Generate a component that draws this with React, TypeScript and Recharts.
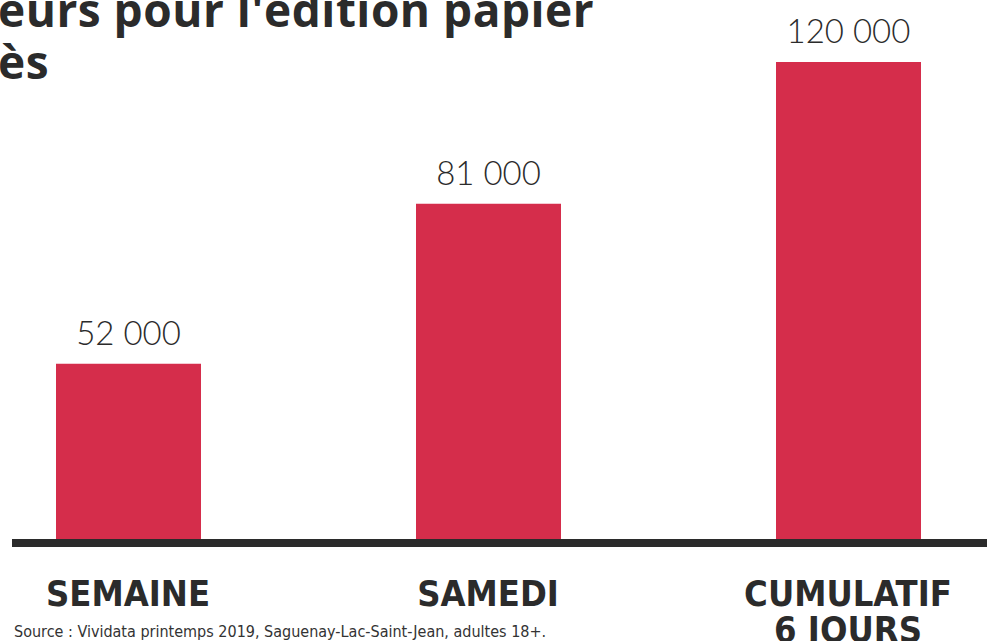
import React from 'react';
import { BarChart, Bar, XAxis, YAxis, LabelList } from 'recharts';

// Lecteurs de l'édition papier (Vividata printemps 2019)
const categories = ['SEMAINE', 'SAMEDI', 'CUMULATIF\n6 JOURS'];
const readers = [52000, 81000, 120000];

const titleLines = ["eurs pour l'édition papier", 'ès'];
const sourceNote = 'Source : Vividata printemps 2019, Saguenay-Lac-Saint-Jean, adultes 18+.';

const data = categories.map((name, i) => ({ name, readers: readers[i] }));

const DARK = '#2b2b2b';
const RED = '#d52d4b';
const NARROW = "'Liberation Sans Narrow', 'DejaVu Sans Condensed', sans-serif";

const formatNumber = (v: number) => String(v).replace(/\B(?=(\d{3})+(?!\d))/g, ' ');

const CategoryTick = (props: any) => {
  const { x, y, payload } = props;
  const lines = String(payload.value).split('\n');
  return (
    <text x={x} y={y} textAnchor="middle" fill={DARK} fontFamily={NARROW} fontWeight={700} fontSize={36}>
      {lines.map((line, i) => (
        <tspan key={i} x={x} dy={i === 0 ? 59 : 36}>
          {line}
        </tspan>
      ))}
    </text>
  );
};

const App: React.FC = () => {
  return (
    <div
      style={{
        position: 'absolute',
        left: 0,
        top: 0,
        width: 987,
        height: 641,
        overflow: 'hidden',
        background: '#fff',
      }}
    >
      <div style={{ position: 'absolute', left: -52.5, top: 0 }}>
        <BarChart width={1080} height={641} data={data} margin={{ top: 62, right: 0, bottom: 0, left: 0 }}>
          <XAxis
            dataKey="name"
            axisLine={false}
            tickLine={false}
            interval={0}
            height={102}
            tick={<CategoryTick />}
          />
          <YAxis hide type="number" scale="log" domain={[32000, 120000]} allowDataOverflow />
          <Bar dataKey="readers" fill={RED} barSize={145} isAnimationActive={false}>
            <LabelList
              dataKey="readers"
              position="top"
              offset={19}
              formatter={(v: any) => formatNumber(Number(v))}
              fill={DARK}
              fontFamily="Lato, sans-serif"
              fontWeight={300}
              fontSize={33}
            />
          </Bar>
        </BarChart>
      </div>
      <svg width={987} height={641} style={{ position: 'absolute', left: 0, top: 0, pointerEvents: 'none' }}>
        <rect x={12} y={539} width={975} height={8} fill={DARK} />
        <text fill={DARK} fontFamily="'Open Sans', sans-serif" fontWeight={700} fontSize={46} letterSpacing={0.5}>
          <tspan x={-2} y={27}>{titleLines[0]}</tspan>
          <tspan x={-2} y={79}>{titleLines[1]}</tspan>
        </text>
        <text x={14} y={637} fill="#333" fontFamily={NARROW} fontSize={16}>
          {sourceNote}
        </text>
      </svg>
    </div>
  );
};

export default App;
